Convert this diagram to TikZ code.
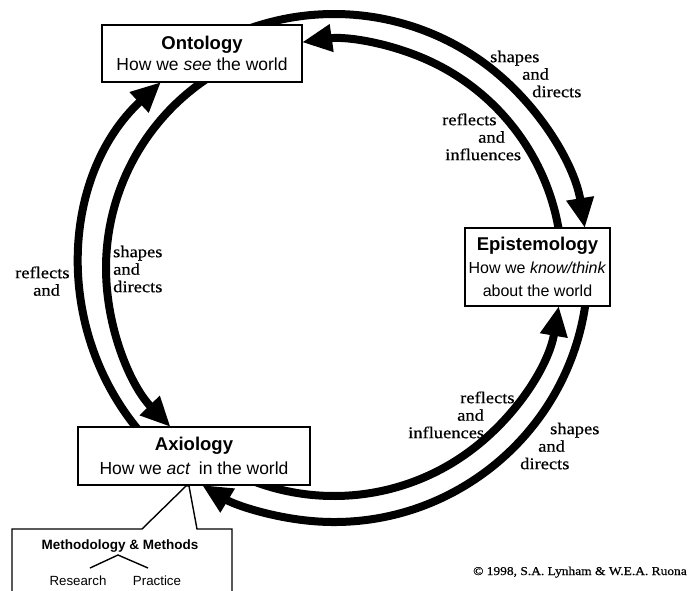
\documentclass[tikz,border=0pt]{standalone}
\usepackage{fontspec}
\setmainfont{Liberation Serif}
\setsansfont{Liberation Sans}
\newfontfamily\lblfont[FakeStretch=1.12,FakeBold=0.5]{Liberation Serif}
\newfontfamily\boxfont{Liberation Sans}
\usetikzlibrary{arrows.meta,calc}
\begin{document}
\begin{tikzpicture}[x=1pt,y=-1pt,
  flow/.style={line width=8pt,-{Triangle[length=30pt,width=26pt]}},
  box/.style={draw,fill=white,line width=1.6pt,inner sep=0pt,align=center},
  lbl/.style={anchor=north west,inner sep=0pt,align=left,font=\lblfont\fontsize{16.5}{17.5}\selectfont},
  thinline/.style={line width=1.4pt}]
\useasboundingbox (0,0) rectangle (689,590);
\coordinate (C) at (334,268);
\def\Ro{254}
\def\Ri{228}
% arcs
\draw[flow] ($(C)+(-110:\Ro)$) arc[start angle=-110,end angle=-9.06,radius=\Ro];
\draw[flow] ($(C)+(-5:\Ri)$) arc[start angle=-5,end angle=-98.07,radius=\Ri];
\draw[flow] ($(C)+(5:\Ro)$) arc[start angle=5,end angle=121.3,radius=\Ro];
\draw[flow] ($(C)+(115:\Ri)$) arc[start angle=115,end angle=9.6,radius=\Ri];
\draw[flow] ($(C)+(138:\Ro)$) arc[start angle=138,end angle=227.07,radius=\Ro];
\draw[flow] ($(C)+(238:\Ri)$) arc[start angle=238,end angle=135.8,radius=\Ri];
% callout for methodology
\coordinate (cl1) at (142,529);
\coordinate (cap1) at (186,486);
\coordinate (cap2) at (189,486);
\coordinate (cr1) at (197,529);
\draw[thinline,fill=white] (12,592) -- (12,529) -- (cl1) -- (cap1) -- (cap2) -- (cr1) -- (232,529) -- (232,592);
% boxes
\node[box,minimum width=200pt,minimum height=57pt,font=\boxfont\fontsize{17.5}{21}\selectfont] (onto) at (202,53.5)
  {{\bfseries\fontsize{18.5}{21}\selectfont Ontology}\\How we \textit{see} the world};
\node[box,minimum width=145pt,minimum height=78pt,font=\boxfont\fontsize{16}{23}\selectfont] (epis) at (537.5,267)
  {{\bfseries\fontsize{18.5}{23}\selectfont Epistemology}\\How we \textit{know/think}\\about the world};
\node[box,minimum width=232pt,minimum height=58pt,font=\boxfont\fontsize{17.5}{24}\selectfont] (axio) at (194,456)
  {{\bfseries\fontsize{18.5}{24}\selectfont Axiology}\\How we \textit{act}\hspace{0.2em} in the world};
% methodology
\node[anchor=base,inner sep=1pt,font=\sffamily\bfseries\fontsize{13.5}{16}\selectfont] (meth) at (120,549) {Methodology \& Methods};
\node[anchor=base,inner sep=1pt,font=\sffamily\fontsize{13.3}{16}\selectfont] (res) at (78,585) {Research};
\node[anchor=base,inner sep=1pt,font=\sffamily\fontsize{13.3}{16}\selectfont] (prac) at (157,585) {Practice};
\coordinate (tapex) at (118,555);
\coordinate (tl) at (90,568);
\coordinate (tr) at (148,568);
\draw[thinline] (tl) -- (tapex) -- (tr);
% labels
\node[lbl] (l1) at (490,49.75) {\strut shapes\\\hspace*{32pt}and\\\hspace*{42pt}directs};
\node[lbl] (l2) at (442,112.75) {\strut reflects\\\hspace*{36pt}and\\\hspace*{3pt}influences};
\node[lbl] (l3) at (15,265.75) {\strut reflects\\\hspace*{18pt}and};
\node[lbl] (l4) at (113,244.75) {\strut shapes\\and\\directs};
\node[lbl] (l5) at (408,390.75) {\strut\hspace*{52pt}reflects\\\hspace*{49pt}and\\influences};
\node[lbl] (l6) at (520,421.75) {\strut\hspace*{30pt}shapes\\\hspace*{18pt}and\\directs};
% copyright
\node[anchor=base west,inner sep=0pt,font=\lblfont\fontsize{12}{14}\selectfont] (copy) at (473,575) {© 1998, S.A. Lynham \& W.E.A. Ruona};
\end{tikzpicture}
\end{document}
